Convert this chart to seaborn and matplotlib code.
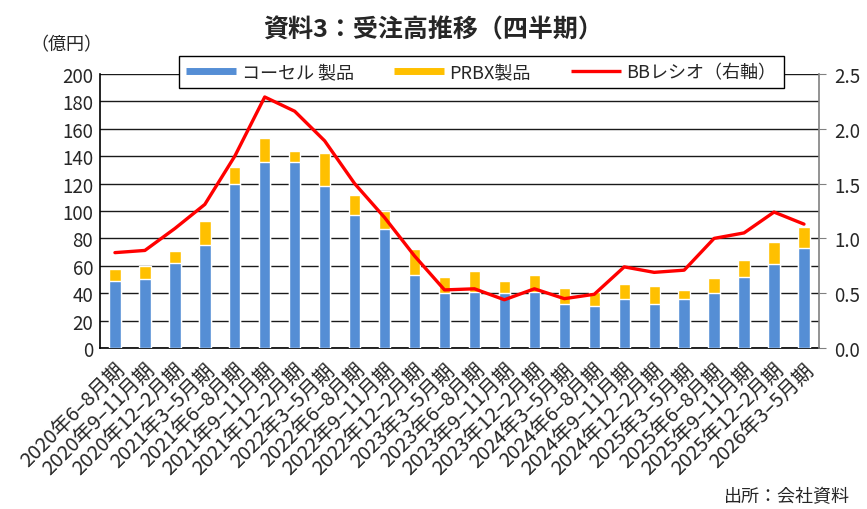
import seaborn as sns
import matplotlib.pyplot as plt
import pandas as pd
import numpy as np
from matplotlib.lines import Line2D
from matplotlib.ticker import FixedLocator

# quarterly order data (億円) and book-to-bill ratio
quarters = [
    "2020年6–8月期", "2020年9–11月期", "2020年12–2月期",
    "2021年3–5月期", "2021年6–8月期", "2021年9–11月期", "2021年12–2月期",
    "2022年3–5月期", "2022年6–8月期", "2022年9–11月期", "2022年12–2月期",
    "2023年3–5月期", "2023年6–8月期", "2023年9–11月期", "2023年12–2月期",
    "2024年3–5月期", "2024年6–8月期", "2024年9–11月期", "2024年12–2月期",
    "2025年3–5月期", "2025年6–8月期", "2025年9–11月期", "2025年12–2月期",
    "2026年3–5月期",
]
cosel = [49, 50, 62, 75, 120, 136, 136, 118, 97, 87, 53, 40,
         41, 40, 41, 32, 31, 36, 32, 36, 40, 52, 61, 73]
prbx = [9, 10, 9, 18, 12, 17, 8, 24, 15, 13, 19, 12,
        15, 9, 12, 12, 10, 11, 13, 6, 11, 12, 16, 15]
bb_ratio = [0.87, 0.89, 1.09, 1.31, 1.75, 2.29, 2.16, 1.89, 1.50, 1.19, 0.84, 0.53,
            0.54, 0.44, 0.54, 0.45, 0.49, 0.74, 0.69, 0.71, 1.00, 1.05, 1.24, 1.13]

df = pd.DataFrame({"quarter": quarters, "cosel": cosel, "prbx": prbx, "bb": bb_ratio})
df["total"] = df["cosel"] + df["prbx"]

blue = "#558ED5"
orange = "#FFC000"
red = "#FF0000"

sns.set_style("white")
plt.rcParams['font.family'] = ['Noto Sans CJK JP', 'DejaVu Sans']

fig = plt.figure(figsize=(8.67, 5.10), dpi=100)
ax = fig.add_axes([0.1153, 0.3157, 0.8293, 0.5373])

# stacked bars: total in orange, cosel drawn over it in blue
sns.barplot(data=df, x="quarter", y="total", color=orange, width=0.38,
            saturation=1, ax=ax, zorder=2)
sns.barplot(data=df, x="quarter", y="cosel", color=blue, width=0.38,
            saturation=1, ax=ax, zorder=3)

ax.set_ylim(0, 200)
ax.set_xlim(-0.5, len(quarters) - 0.5)
ax.set_yticks(np.arange(0, 201, 20))
ax.yaxis.grid(True, color="#1a1a1a", linewidth=1.0)
ax.set_axisbelow(True)
ax.set_xlabel("")
ax.set_ylabel("")
ax.tick_params(axis="y", labelsize=13.5, length=0, pad=5)
ax.set_xticks(range(len(quarters)))
ax.set_xticklabels(quarters, rotation=45, ha="right", rotation_mode="anchor", fontsize=14.5)
ax.tick_params(axis="x", which="major", length=0, pad=8)
ax.xaxis.set_minor_locator(FixedLocator(np.arange(-0.5, len(quarters), 1)))
ax.tick_params(axis="x", which="minor", direction="in", length=4, color="black")
for side in ["left", "bottom"]:
    ax.spines[side].set_color("black")
    ax.spines[side].set_linewidth(1.2)
ax.spines["top"].set_visible(False)
ax.spines["right"].set_visible(False)

# BB ratio on right axis
ax2 = ax.twinx()
sns.lineplot(x=np.arange(len(quarters)), y=df["bb"], color=red, linewidth=2.4, ax=ax2, zorder=5)
ax2.set_ylim(0, 2.5)
ax2.set_yticks(np.arange(0, 2.51, 0.5))
ax2.set_yticklabels([f"{v:.1f}" for v in np.arange(0, 2.51, 0.5)])
ax2.set_ylabel("")
ax2.tick_params(axis="y", labelsize=13.5, direction="out", length=5, color="#808080", pad=6)
ax2.spines["right"].set_color("#808080")
ax2.spines["right"].set_linewidth(1.2)
for side in ["top", "left", "bottom"]:
    ax2.spines[side].set_visible(False)

handles = [
    Line2D([0], [0], color=blue, linewidth=5, solid_capstyle="butt"),
    Line2D([0], [0], color=orange, linewidth=5, solid_capstyle="butt"),
    Line2D([0], [0], color=red, linewidth=2.4, solid_capstyle="butt"),
]
labels = ["コーセル 製品", "PRBX製品", "BBレシオ（右軸）"]
leg = fig.legend(handles, labels, loc="center", bbox_to_anchor=(0.555, 0.857), ncol=3,
                 fontsize=13, frameon=True, fancybox=False, framealpha=1,
                 edgecolor="black", handlelength=2.8, columnspacing=2.2,
                 borderpad=0.4, handletextpad=0.3)
leg.get_frame().set_linewidth(1.0)

fig.text(0.5, 0.94, "資料3：受注高推移（四半期）", ha="center", va="center",
         fontsize=18, fontweight="bold")
fig.text(0.077, 0.912, "（億円）", ha="center", va="center", fontsize=13)
fig.text(0.98, 0.025, "出所：会社資料", ha="right", va="center", fontsize=13)

plt.savefig("out.png", dpi=100)
